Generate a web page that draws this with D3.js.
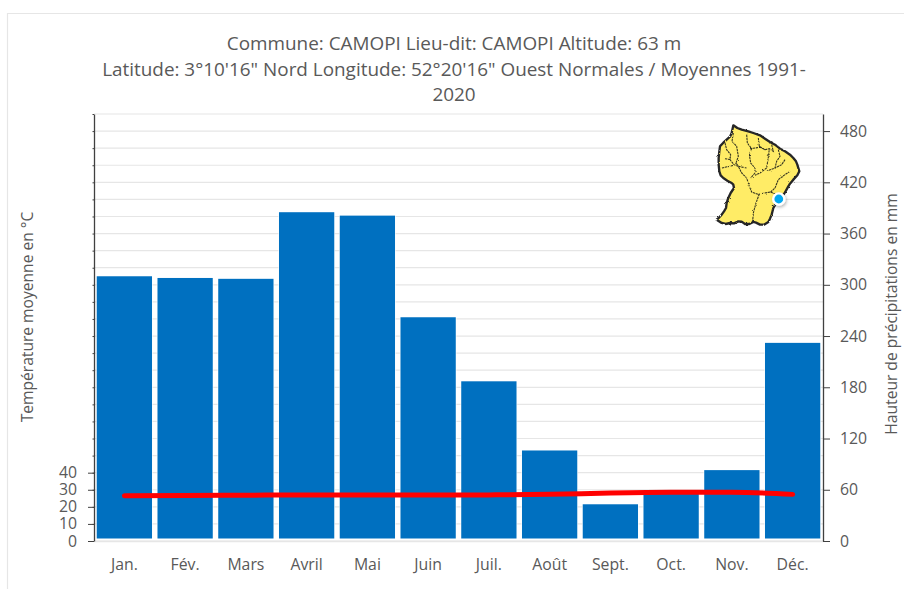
<!DOCTYPE html>
<html>
<head>
<meta charset="utf-8">
<script src="https://cdn.jsdelivr.net/npm/d3@7"></script>
<style>
  body { margin: 0; background: #fff; }
  text { font-family: "Open Sans", sans-serif; }
</style>
</head>
<body>
<div id="chart"></div>
<script>
var months = ["Jan.", "Fév.", "Mars", "Avril", "Mai", "Juin", "Juil.", "Août", "Sept.", "Oct.", "Nov.", "Déc."];
var rainfall = [310, 308, 307, 385, 381, 262, 187, 106, 43, 57, 83, 232];
var temperature = [26.5, 26.6, 26.8, 27, 27, 26.9, 27, 27.3, 28.1, 28.5, 28.5, 27.3];
var tempLabels = [0, 10, 20, 30, 40];
var tempGrid = d3.range(0, 251, 10);
var rainLabels = [0, 60, 120, 180, 240, 300, 360, 420, 480];
var titleLines = [
  "Commune: CAMOPI Lieu-dit: CAMOPI Altitude: 63 m",
  "Latitude: 3°10'16\" Nord Longitude: 52°20'16\" Ouest Normales / Moyennes 1991-",
  "2020"
];

var svgWidth = 904;
var svgHeight = 589;

var margin = {
  top: 114,
  right: 81,
  bottom: 48,
  left: 94
};

var width = svgWidth - margin.left - margin.right;
var height = svgHeight - margin.top - margin.bottom;

var svg = d3.select("#chart")
  .append("svg")
  .attr("width", svgWidth)
  .attr("height", svgHeight)
  .style("display", "block");

// Outer frame, only the top and left edges are in the picture
svg.append("path")
  .attr("d", "M7.5,589V13.5H904")
  .attr("fill", "none")
  .attr("stroke", "#e6e6e6")
  .attr("stroke-width", 1.2);

// Title
svg.append("text")
  .attr("text-anchor", "middle")
  .attr("fill", "#595959")
  .attr("font-size", "18.9px")
  .selectAll("tspan")
  .data(titleLines)
  .enter()
  .append("tspan")
  .attr("x", 454)
  .attr("y", (d, i) => 50 + i * 25.6)
  .text(d => d);

var chartGroup = svg.append("g")
  .attr("transform", `translate(${margin.left}, ${margin.top})`);

// Scales
var xScale = d3.scaleBand()
  .domain(months)
  .range([0, width])
  .paddingInner(0.09)
  .paddingOuter(0.045);

var tempScale = d3.scaleLinear()
  .domain([0, 250])
  .range([height, 0]);

var rainScale = d3.scaleLinear()
  .domain([0, 500])
  .range([height, 0]);

// Gridlines
chartGroup.selectAll(".grid")
  .data(tempGrid)
  .enter()
  .append("line")
  .attr("class", "grid")
  .attr("x1", 0)
  .attr("x2", width)
  .attr("y1", d => tempScale(d))
  .attr("y2", d => tempScale(d))
  .attr("stroke", "#e6e6e6")
  .attr("stroke-width", 1.2);

// Bars, with a white halo that keeps them off the grid and the baseline
chartGroup.selectAll(".bar")
  .data(rainfall)
  .enter()
  .append("rect")
  .attr("class", "bar")
  .attr("x", (d, i) => xScale(months[i]))
  .attr("width", xScale.bandwidth())
  .attr("y", d => rainScale(d))
  .attr("height", d => rainScale(0) - rainScale(d) - 2.5)
  .attr("fill", "#0070c0")
  .attr("stroke", "#fff")
  .attr("stroke-opacity", 0.75)
  .attr("stroke-width", 1.6)
  .attr("paint-order", "stroke");

// Temperature line
var tempLine = d3.line()
  .x((d, i) => xScale(months[i]) + xScale.bandwidth() / 2)
  .y(d => tempScale(d))
  .curve(d3.curveMonotoneX);

chartGroup.append("path")
  .datum(temperature)
  .attr("d", tempLine)
  .attr("fill", "none")
  .attr("stroke", "#ff0000")
  .attr("stroke-width", 5)
  .attr("stroke-linecap", "round");

// Axes
var bottomAxis = d3.axisBottom(xScale).tickSize(0).tickPadding(18);
var leftMinor = d3.axisLeft(tempScale).tickValues(tempGrid).tickSize(1.5).tickFormat("");
var leftAxis = d3.axisLeft(tempScale).tickValues(tempLabels).tickSize(6).tickPadding(11);
var rightAxis = d3.axisRight(rainScale).tickValues(rainLabels).tickSize(7).tickPadding(10);

function styleAxis(g, lineColor) {
  g.selectAll("text")
    .attr("fill", "#595959")
    .attr("font-size", "15.8px")
    .style("font-family", "'Open Sans', sans-serif");
  g.selectAll("line").attr("stroke", lineColor);
  g.select(".domain").attr("stroke", lineColor);
}

var xAxisGroup = chartGroup.append("g")
  .attr("transform", `translate(0, ${height})`)
  .call(bottomAxis);
styleAxis(xAxisGroup, "#e6e6e6");
xAxisGroup.select(".domain").attr("stroke-width", 1.4);

var leftMinorGroup = chartGroup.append("g").call(leftMinor);
styleAxis(leftMinorGroup, "#404040");
leftMinorGroup.select(".domain").attr("stroke", "none");

var leftAxisGroup = chartGroup.append("g").call(leftAxis);
styleAxis(leftAxisGroup, "#404040");
leftAxisGroup.select(".domain").attr("d", `M0.5,0.5V${height + 0.5}`).attr("stroke-width", 1.3);

var rightAxisGroup = chartGroup.append("g")
  .attr("transform", `translate(${width}, 0)`)
  .call(rightAxis);
styleAxis(rightAxisGroup, "#404040");
rightAxisGroup.select(".domain").attr("d", `M0.5,0.5V${height + 0.5}`).attr("stroke-width", 1.3);

// Axis titles
svg.append("text")
  .attr("transform", "translate(33, 317) rotate(-90)")
  .attr("text-anchor", "middle")
  .attr("fill", "#595959")
  .attr("font-size", "15.6px")
  .text("Température moyenne en °C");

svg.append("text")
  .attr("transform", "translate(897, 314) rotate(-90)")
  .attr("text-anchor", "middle")
  .attr("fill", "#595959")
  .attr("font-size", "15.6px")
  .text("Hauteur de précipitations en mm");

// Inset map of Guyane
var mapOutline = "M70,22L82,30L95,35L115,40L130,45L150,52L165,62L180,72L195,80L210,92L225,100L240,110L250,120L258,130L262,140L268,160L262,172L250,185L240,197L235,205L228,218L222,228L212,240L205,250L196,260L190,270L187,282L185,290L180,302L175,312L162,320L150,320L138,314L130,312L118,318L105,318L95,311L85,310L72,316L60,315L47,318L35,315L20,305L28,298L35,290L42,280L48,270L50,255L55,240L62,225L72,210L70,200L65,195L52,188L40,180L32,172L28,160L26,140L26,120L28,100L30,85L40,74L50,65L60,56L65,45Z";
var mapRivers = [
  "M45,75L50,95L62,110L60,125L72,140L85,145L95,165L110,180L118,205L125,222L148,230",
  "M70,45L66,70L80,85L85,115L78,135L85,145",
  "M110,50L112,75L125,92L118,110L122,135L135,150L135,165L122,180",
  "M45,122L62,125M36,150L72,142M85,145L110,150",
  "M145,60L148,85L165,95L178,92L175,118L170,150L150,165L135,172",
  "M120,92L150,88L165,95",
  "M205,95L210,115L200,130L195,150L172,158",
  "M185,80L190,100L178,92",
  "M240,160L222,172L205,185L195,210L182,222L148,228",
  "M225,125L215,140L195,150",
  "M148,228L138,255L130,285L128,310",
  "M182,222L205,232"
];

var mapGroup = svg.append("g")
  .attr("transform", "translate(710, 118) scale(0.3333)")
  .attr("filter", "url(#rough)");

mapGroup.append("path")
  .attr("d", mapOutline)
  .attr("fill", "#ffec66")
  .attr("stroke", "#262626")
  .attr("stroke-width", 7)
  .attr("stroke-linejoin", "round");

mapGroup.selectAll(".river")
  .data(mapRivers)
  .enter()
  .append("path")
  .attr("class", "river")
  .attr("d", d => d)
  .attr("fill", "none")
  .attr("stroke", "#33331f")
  .attr("stroke-width", 3.2)
  .attr("stroke-dasharray", "7 2");

var defs = svg.append("defs");

// Slight wobble and softness, the map is a scaled bitmap in the original
var rough = defs.append("filter").attr("id", "rough")
  .attr("x", "-10%").attr("y", "-10%").attr("width", "120%").attr("height", "120%");
rough.append("feTurbulence")
  .attr("type", "fractalNoise").attr("baseFrequency", 0.12).attr("numOctaves", 2).attr("seed", 3)
  .attr("result", "noise");
rough.append("feDisplacementMap")
  .attr("in", "SourceGraphic").attr("in2", "noise").attr("scale", 7);

// Location marker
var shadow = defs.append("filter").attr("id", "shadow")
  .attr("x", "-50%").attr("y", "-50%").attr("width", "200%").attr("height", "200%");
shadow.append("feDropShadow")
  .attr("dx", 1).attr("dy", 1.5).attr("stdDeviation", 1.5)
  .attr("flood-color", "#000").attr("flood-opacity", 0.3);

svg.append("circle")
  .attr("cx", 778.8)
  .attr("cy", 199)
  .attr("r", 5.6)
  .attr("fill", "#00a8f0")
  .attr("stroke", "#fff")
  .attr("stroke-width", 2.4)
  .attr("filter", "url(#shadow)");
</script>
</body>
</html>
